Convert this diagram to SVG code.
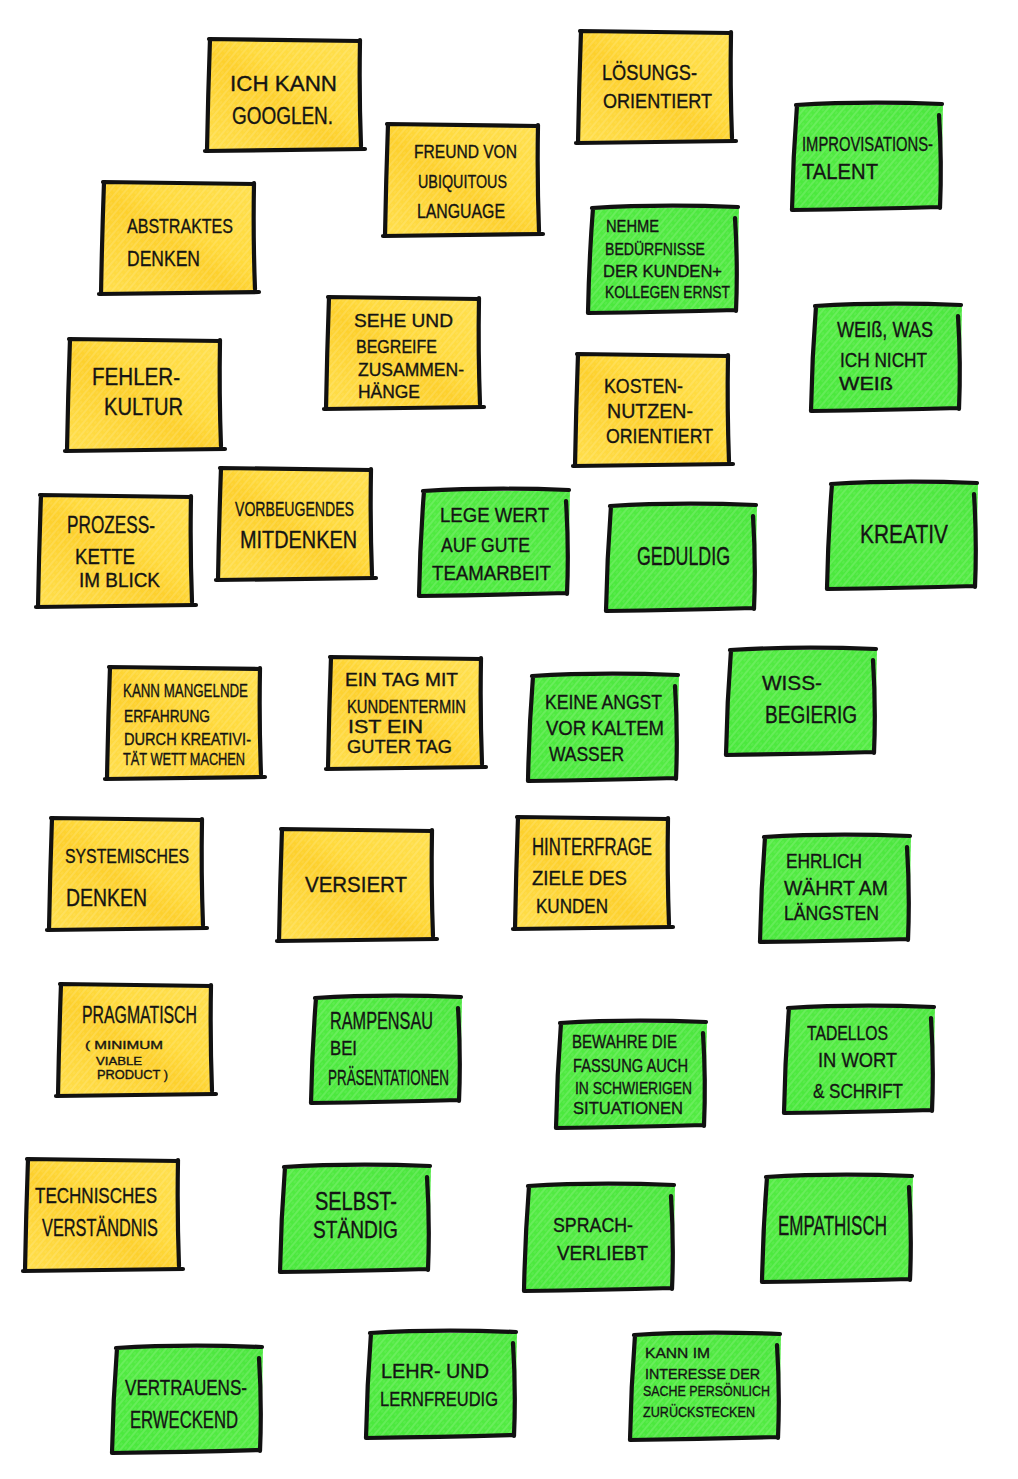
<svg xmlns="http://www.w3.org/2000/svg" xmlns:xlink="http://www.w3.org/1999/xlink" width="1018" height="1479" viewBox="0 0 1018 1479">
<style>
text{font-family:"Liberation Sans","DejaVu Sans",sans-serif;fill:#141414;stroke:#141414;stroke-width:0.35}
.bd{fill:none;stroke:#111;stroke-width:4.2;stroke-linecap:round;stroke-linejoin:round}
</style>
<defs>
<linearGradient id="gy" x1="0" y1="1" x2="1" y2="0">
<stop offset="0" stop-color="#FFDF4C"/><stop offset="0.45" stop-color="#FDD02C"/><stop offset="0.6" stop-color="#FFDA3C"/><stop offset="1" stop-color="#FFE050"/>
</linearGradient>
<linearGradient id="gg" x1="0" y1="1" x2="1" y2="0">
<stop offset="0" stop-color="#49E83C"/><stop offset="0.5" stop-color="#52EB42"/><stop offset="1" stop-color="#4BE63E"/>
</linearGradient>
<pattern id="hatch" width="6" height="6" patternUnits="userSpaceOnUse" patternTransform="rotate(-50)">
<line x1="0" y1="1" x2="6" y2="1" stroke="#fff" stroke-opacity="0.28" stroke-width="1"/>
<line x1="0" y1="4" x2="3" y2="4" stroke="#fff" stroke-opacity="0.15" stroke-width="1"/>
</pattern>
<g id="noteY">
<path d="M3,1 L153,3 L155,110 L0,112 Z" fill="url(#gy)"/>
<path d="M3,1 L153,3 L155,110 L0,112 Z" fill="url(#hatch)"/>
<path class="bd" d="M2,1 Q78,2 153,3 M153,2 Q152,56 154,108 M158,111 Q80,112 -2,113 M0,113 Q1,57 3,1"/>
</g>
<g id="noteG">
<path d="M4,3 L150,3 L148,106 L0,108 Z" fill="url(#gg)"/>
<path d="M4,3 L150,3 L148,106 L0,108 Z" fill="url(#hatch)"/>
<path class="bd" d="M3,3 Q70,-1 149,2 M146,13 Q149,60 147,106 M-1,108 Q75,107 147,105 M4,3 Q0,55 -1,108"/>
</g>
</defs>
<rect width="1018" height="1479" fill="#fff"/>
<g id="connectors"/>

<g id="note-googlen"><use href="#noteY" x="207" y="38"/>
<text x="230" y="91" font-size="22" textLength="107" lengthAdjust="spacingAndGlyphs">ICH  KANN</text>
<text x="232" y="124" font-size="23" textLength="101" lengthAdjust="spacingAndGlyphs">GOOGLEN.</text></g>

<g id="note-abstraktes"><use href="#noteY" x="101" y="181"/>
<text x="127" y="233" font-size="21" textLength="106" lengthAdjust="spacingAndGlyphs">ABSTRAKTES</text>
<text x="127" y="266" font-size="22" textLength="73" lengthAdjust="spacingAndGlyphs">DENKEN</text></g>

<g id="note-freund"><use href="#noteY" x="385" y="123"/>
<text x="414" y="158" font-size="18" textLength="103" lengthAdjust="spacingAndGlyphs">FREUND  VON</text>
<text x="418" y="188" font-size="19" textLength="89" lengthAdjust="spacingAndGlyphs">UBIQUITOUS</text>
<text x="417" y="218" font-size="20" textLength="88" lengthAdjust="spacingAndGlyphs">LANGUAGE</text></g>

<g id="note-loesungs"><use href="#noteY" x="578" y="30"/>
<text x="602" y="80" font-size="22" textLength="95" lengthAdjust="spacingAndGlyphs">LÖSUNGS-</text>
<text x="603" y="108" font-size="21" textLength="109" lengthAdjust="spacingAndGlyphs">ORIENTIERT</text></g>

<g id="note-fehler"><use href="#noteY" x="67" y="338"/>
<text x="92" y="385" font-size="23" textLength="88" lengthAdjust="spacingAndGlyphs">FEHLER-</text>
<text x="104" y="415" font-size="24" textLength="79" lengthAdjust="spacingAndGlyphs">KULTUR</text></g>

<g id="note-sehe"><use href="#noteY" x="326" y="296"/>
<text x="354" y="327" font-size="19" textLength="99" lengthAdjust="spacingAndGlyphs">SEHE  UND</text>
<text x="356" y="353" font-size="19" textLength="81" lengthAdjust="spacingAndGlyphs">BEGREIFE</text>
<text x="358" y="376" font-size="18" textLength="106" lengthAdjust="spacingAndGlyphs">ZUSAMMEN-</text>
<text x="358" y="398" font-size="18" textLength="62" lengthAdjust="spacingAndGlyphs">HÄNGE</text></g>

<g id="note-prozess"><use href="#noteY" x="38" y="494"/>
<text x="67" y="533" font-size="23" textLength="88" lengthAdjust="spacingAndGlyphs">PROZESS-</text>
<text x="75" y="564" font-size="22" textLength="60" lengthAdjust="spacingAndGlyphs">KETTE</text>
<text x="79" y="587" font-size="20" textLength="81" lengthAdjust="spacingAndGlyphs">IM  BLICK</text></g>

<g id="note-vorbeugendes"><use href="#noteY" x="218" y="467"/>
<text x="235" y="516" font-size="21" textLength="119" lengthAdjust="spacingAndGlyphs">VORBEUGENDES</text>
<text x="240" y="548" font-size="23" textLength="117" lengthAdjust="spacingAndGlyphs">MITDENKEN</text></g>

<g id="note-kosten"><use href="#noteY" x="575" y="353"/>
<text x="604" y="393" font-size="21" textLength="79" lengthAdjust="spacingAndGlyphs">KOSTEN-</text>
<text x="607" y="418" font-size="21" textLength="86" lengthAdjust="spacingAndGlyphs">NUTZEN-</text>
<text x="606" y="443" font-size="20" textLength="107" lengthAdjust="spacingAndGlyphs">ORIENTIERT</text></g>

<g id="note-mangelnde"><use href="#noteY" x="107" y="666"/>
<text x="123" y="697" font-size="18" textLength="125" lengthAdjust="spacingAndGlyphs">KANN  MANGELNDE</text>
<text x="124" y="722" font-size="16" textLength="86" lengthAdjust="spacingAndGlyphs">ERFAHRUNG</text>
<text x="124" y="745" font-size="17" textLength="127" lengthAdjust="spacingAndGlyphs">DURCH  KREATIVI-</text>
<text x="123" y="765" font-size="16" textLength="122" lengthAdjust="spacingAndGlyphs">TÄT WETT MACHEN</text></g>

<g id="note-eintag"><use href="#noteY" x="328" y="656"/>
<text x="345" y="686" font-size="18" textLength="113" lengthAdjust="spacingAndGlyphs">EIN TAG  MIT</text>
<text x="347" y="713" font-size="19" textLength="119" lengthAdjust="spacingAndGlyphs">KUNDENTERMIN</text>
<text x="348" y="733" font-size="18" textLength="75" lengthAdjust="spacingAndGlyphs">IST  EIN</text>
<text x="347" y="753" font-size="18" textLength="105" lengthAdjust="spacingAndGlyphs">GUTER TAG</text></g>

<g id="note-systemisches"><use href="#noteY" x="49" y="817"/>
<text x="65" y="863" font-size="20" textLength="124" lengthAdjust="spacingAndGlyphs">SYSTEMISCHES</text>
<text x="66" y="906" font-size="24" textLength="81" lengthAdjust="spacingAndGlyphs">DENKEN</text></g>

<g id="note-versiert"><use href="#noteY" x="279" y="828"/>
<text x="305" y="892" font-size="22" textLength="102" lengthAdjust="spacingAndGlyphs">VERSIERT</text></g>

<g id="note-hinterfrage"><use href="#noteY" x="515" y="816"/>
<text x="532" y="855" font-size="23" textLength="120" lengthAdjust="spacingAndGlyphs">HINTERFRAGE</text>
<text x="532" y="885" font-size="21" textLength="95" lengthAdjust="spacingAndGlyphs">ZIELE  DES</text>
<text x="536" y="913" font-size="20" textLength="72" lengthAdjust="spacingAndGlyphs">KUNDEN</text></g>

<g id="note-pragmatisch"><use href="#noteY" x="58" y="983"/>
<text x="82" y="1023" font-size="23" textLength="115" lengthAdjust="spacingAndGlyphs">PRAGMATISCH</text>
<text x="85" y="1049" font-size="11" textLength="78" lengthAdjust="spacingAndGlyphs">( MINIMUM</text>
<text x="96" y="1065" font-size="11" textLength="46" lengthAdjust="spacingAndGlyphs">VIABLE</text>
<text x="97" y="1079" font-size="12" textLength="71" lengthAdjust="spacingAndGlyphs">PRODUCT )</text></g>

<g id="note-technisches"><use href="#noteY" x="25" y="1158"/>
<text x="35" y="1203" font-size="22" textLength="122" lengthAdjust="spacingAndGlyphs">TECHNISCHES</text>
<text x="42" y="1236" font-size="23" textLength="116" lengthAdjust="spacingAndGlyphs">VERSTÄNDNIS</text></g>

<g id="note-improvisation"><use href="#noteG" x="793" y="102"/>
<text x="802" y="151" font-size="21" textLength="131" lengthAdjust="spacingAndGlyphs">IMPROVISATIONS-</text>
<text x="802" y="179" font-size="22" textLength="76" lengthAdjust="spacingAndGlyphs">TALENT</text></g>

<g id="note-beduerfnisse"><use href="#noteG" x="589" y="205"/>
<text x="606" y="232" font-size="16" textLength="53" lengthAdjust="spacingAndGlyphs">NEHME</text>
<text x="605" y="255" font-size="17" textLength="100" lengthAdjust="spacingAndGlyphs">BEDÜRFNISSE</text>
<text x="603" y="277" font-size="17" textLength="119" lengthAdjust="spacingAndGlyphs">DER  KUNDEN+</text>
<text x="605" y="298" font-size="17" textLength="125" lengthAdjust="spacingAndGlyphs">KOLLEGEN ERNST</text></g>

<g id="note-weiss"><use href="#noteG" x="812" y="303"/>
<text x="837" y="337" font-size="22" textLength="96" lengthAdjust="spacingAndGlyphs">WEIß, WAS</text>
<text x="840" y="367" font-size="20" textLength="87" lengthAdjust="spacingAndGlyphs">ICH  NICHT</text>
<text x="839" y="390" font-size="19" textLength="54" lengthAdjust="spacingAndGlyphs">WEIß</text></g>

<g id="note-teamarbeit"><use href="#noteG" x="420" y="488"/>
<text x="440" y="522" font-size="21" textLength="109" lengthAdjust="spacingAndGlyphs">LEGE  WERT</text>
<text x="441" y="552" font-size="20" textLength="89" lengthAdjust="spacingAndGlyphs">AUF  GUTE</text>
<text x="432" y="580" font-size="20" textLength="119" lengthAdjust="spacingAndGlyphs">TEAMARBEIT</text></g>

<g id="note-geduldig"><use href="#noteG" x="607" y="503"/>
<text x="637" y="565" font-size="25" textLength="93" lengthAdjust="spacingAndGlyphs">GEDULDIG</text></g>

<g id="note-kreativ"><use href="#noteG" x="828" y="481"/>
<text x="860" y="543" font-size="26" textLength="88" lengthAdjust="spacingAndGlyphs">KREATIV</text></g>

<g id="note-keineangst"><use href="#noteG" x="529" y="673"/>
<text x="545" y="709" font-size="21" textLength="117" lengthAdjust="spacingAndGlyphs">KEINE  ANGST</text>
<text x="546" y="735" font-size="20" textLength="118" lengthAdjust="spacingAndGlyphs">VOR  KALTEM</text>
<text x="549" y="761" font-size="20" textLength="75" lengthAdjust="spacingAndGlyphs">WASSER</text></g>

<g id="note-wissbegierig"><use href="#noteG" x="727" y="647"/>
<text x="762" y="690" font-size="21" textLength="60" lengthAdjust="spacingAndGlyphs">WISS-</text>
<text x="765" y="723" font-size="23" textLength="92" lengthAdjust="spacingAndGlyphs">BEGIERIG</text></g>

<g id="note-ehrlich"><use href="#noteG" x="761" y="834"/>
<text x="786" y="868" font-size="20" textLength="76" lengthAdjust="spacingAndGlyphs">EHRLICH</text>
<text x="784" y="895" font-size="21" textLength="104" lengthAdjust="spacingAndGlyphs">WÄHRT  AM</text>
<text x="784" y="920" font-size="20" textLength="95" lengthAdjust="spacingAndGlyphs">LÄNGSTEN</text></g>

<g id="note-rampensau"><use href="#noteG" x="312" y="995"/>
<text x="330" y="1029" font-size="24" textLength="103" lengthAdjust="spacingAndGlyphs">RAMPENSAU</text>
<text x="330" y="1055" font-size="21" textLength="27" lengthAdjust="spacingAndGlyphs">BEI</text>
<text x="328" y="1085" font-size="22" textLength="121" lengthAdjust="spacingAndGlyphs">PRÄSENTATIONEN</text></g>

<g id="note-selbststaendig"><use href="#noteG" x="281" y="1164"/>
<text x="315" y="1210" font-size="25" textLength="82" lengthAdjust="spacingAndGlyphs">SELBST-</text>
<text x="313" y="1238" font-size="24" textLength="85" lengthAdjust="spacingAndGlyphs">STÄNDIG</text></g>

<g id="note-fassung"><use href="#noteG" x="557" y="1020"/>
<text x="572" y="1048" font-size="18" textLength="105" lengthAdjust="spacingAndGlyphs">BEWAHRE DIE</text>
<text x="573" y="1072" font-size="18" textLength="115" lengthAdjust="spacingAndGlyphs">FASSUNG  AUCH</text>
<text x="575" y="1094" font-size="17" textLength="117" lengthAdjust="spacingAndGlyphs">IN  SCHWIERIGEN</text>
<text x="573" y="1114" font-size="17" textLength="110" lengthAdjust="spacingAndGlyphs">SITUATIONEN</text></g>

<g id="note-tadellos"><use href="#noteG" x="785" y="1005"/>
<text x="807" y="1040" font-size="21" textLength="81" lengthAdjust="spacingAndGlyphs">TADELLOS</text>
<text x="818" y="1067" font-size="21" textLength="79" lengthAdjust="spacingAndGlyphs">IN  WORT</text>
<text x="813" y="1098" font-size="21" textLength="90" lengthAdjust="spacingAndGlyphs">&amp; SCHRIFT</text></g>

<g id="note-sprachverliebt"><use href="#noteG" x="525" y="1183"/>
<text x="553" y="1232" font-size="21" textLength="80" lengthAdjust="spacingAndGlyphs">SPRACH-</text>
<text x="557" y="1260" font-size="21" textLength="91" lengthAdjust="spacingAndGlyphs">VERLIEBT</text></g>

<g id="note-empathisch"><use href="#noteG" x="763" y="1174"/>
<text x="778" y="1235" font-size="27" textLength="109" lengthAdjust="spacingAndGlyphs">EMPATHISCH</text></g>

<g id="note-vertrauen"><use href="#noteG" x="113" y="1345"/>
<text x="125" y="1395" font-size="22" textLength="122" lengthAdjust="spacingAndGlyphs">VERTRAUENS-</text>
<text x="130" y="1428" font-size="24" textLength="108" lengthAdjust="spacingAndGlyphs">ERWECKEND</text></g>

<g id="note-lehrlern"><use href="#noteG" x="367" y="1330"/>
<text x="381" y="1378" font-size="21" textLength="108" lengthAdjust="spacingAndGlyphs">LEHR-  UND</text>
<text x="380" y="1406" font-size="21" textLength="118" lengthAdjust="spacingAndGlyphs">LERNFREUDIG</text></g>

<g id="note-zuruecksteck"><use href="#noteG" x="631" y="1332"/>
<text x="645" y="1358" font-size="15" textLength="65" lengthAdjust="spacingAndGlyphs">KANN  IM</text>
<text x="645" y="1379" font-size="15" textLength="115" lengthAdjust="spacingAndGlyphs">INTERESSE DER</text>
<text x="643" y="1396" font-size="15" textLength="127" lengthAdjust="spacingAndGlyphs">SACHE PERSÖNLICH</text>
<text x="643" y="1417" font-size="15" textLength="112" lengthAdjust="spacingAndGlyphs">ZURÜCKSTECKEN</text></g>
</svg>
